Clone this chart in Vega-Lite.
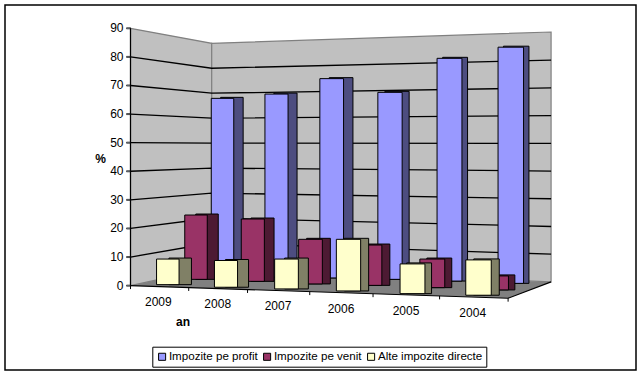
{
"$schema":"https://vega.github.io/schema/vega-lite/v6.json",
"width":631,"height":365,
"padding":{"left":5,"top":5,"right":6,"bottom":6},
"autosize":{"type":"none"},
"background":"white",
"view":{"stroke":"black","strokeWidth":1.5},
"datasets":{
"bare":[
{"an":2009,"serie":"Impozite pe profit","valoare":65.5,"baza":3.4},
{"an":2008,"serie":"Impozite pe profit","valoare":67,"baza":3},
{"an":2007,"serie":"Impozite pe profit","valoare":72.4,"baza":2.7},
{"an":2006,"serie":"Impozite pe profit","valoare":67.6,"baza":2.2},
{"an":2005,"serie":"Impozite pe profit","valoare":79.5,"baza":1.6},
{"an":2004,"serie":"Impozite pe profit","valoare":83.4,"baza":0.8},
{"an":2009,"serie":"Impozite pe venit","valoare":24.7,"baza":2.2},
{"an":2008,"serie":"Impozite pe venit","valoare":23.3,"baza":1.5},
{"an":2007,"serie":"Impozite pe venit","valoare":16.2,"baza":0.6},
{"an":2006,"serie":"Impozite pe venit","valoare":14.2,"baza":0.1},
{"an":2005,"serie":"Impozite pe venit","valoare":9.3,"baza":-0.7},
{"an":2004,"serie":"Impozite pe venit","valoare":3.4,"baza":-1.5},
{"an":2009,"serie":"Alte impozite directe","valoare":9.3,"baza":0.35},
{"an":2008,"serie":"Alte impozite directe","valoare":8.8,"baza":-0.56},
{"an":2007,"serie":"Alte impozite directe","valoare":9.3,"baza":-1.15},
{"an":2006,"serie":"Alte impozite directe","valoare":16.2,"baza":-1.85},
{"an":2005,"serie":"Alte impozite directe","valoare":7.6,"baza":-2.8},
{"an":2004,"serie":"Alte impozite directe","valoare":9,"baza":-3.35}
],
"pereti":[
{"perete":"stanga","x":2009.463,"sus":90,"jos":0},
{"perete":"stanga","x":2008.171,"sus":84.76,"jos":6.19},
{"perete":"spate","x":2008.171,"sus":84.76,"jos":6.19},
{"perete":"spate","x":2002.771,"sus":88.7,"jos":1.3}
],
"podea":[
{"x":2009.463,"sus":0,"jos":0},
{"x":2008.171,"sus":6.19,"jos":-0.95},
{"x":2003.455,"sus":1.92,"jos":-4.4},
{"x":2002.771,"sus":1.3,"jos":1.3}
],
"grila":[
{"v":10,"x":2009.463,"y":10},{"v":10,"x":2008.171,"y":14.92},{"v":10,"x":2002.771,"y":11},
{"v":20,"x":2009.463,"y":20},{"v":20,"x":2008.171,"y":23.65},{"v":20,"x":2002.771,"y":20.69},
{"v":30,"x":2009.463,"y":30},{"v":30,"x":2008.171,"y":32.38},{"v":30,"x":2002.771,"y":30.39},
{"v":40,"x":2009.463,"y":40},{"v":40,"x":2008.171,"y":41.11},{"v":40,"x":2002.771,"y":40.08},
{"v":50,"x":2009.463,"y":50},{"v":50,"x":2008.171,"y":49.84},{"v":50,"x":2002.771,"y":49.78},
{"v":60,"x":2009.463,"y":60},{"v":60,"x":2008.171,"y":58.57},{"v":60,"x":2002.771,"y":59.48},
{"v":70,"x":2009.463,"y":70},{"v":70,"x":2008.171,"y":67.3},{"v":70,"x":2002.771,"y":69.17},
{"v":80,"x":2009.463,"y":80},{"v":80,"x":2008.171,"y":76.03},{"v":80,"x":2002.771,"y":78.87}
],
"margini":[
{"v":"ax","x":2009.463,"y":90},{"v":"ax","x":2009.463,"y":0},
{"v":"fata","x":2009.463,"y":0},{"v":"fata","x":2003.455,"y":-4.4},{"v":"fata","x":2002.771,"y":1.3}
],
"ticuri":[
{"x":2009.463,"y":0,"y2":-1.2},
{"x":2008.537,"y":-0.66,"y2":-1.86},
{"x":2007.601,"y":-1.36,"y2":-2.56},
{"x":2006.611,"y":-2.1,"y2":-3.3},
{"x":2005.604,"y":-2.83,"y2":-4.03},
{"x":2004.545,"y":-3.6,"y2":-4.8},
{"x":2003.455,"y":-4.4,"y2":-5.6}
],
"etichete":[
{"an":2009,"eticheta":"2009","y":-5.6},
{"an":2008,"eticheta":"2008","y":-6.4},
{"an":2007,"eticheta":"2007","y":-7},
{"an":2006,"eticheta":"2006","y":-8},
{"an":2005,"eticheta":"2005","y":-8.7},
{"an":2004,"eticheta":"2004","y":-9.4}
],
"axa_y":[
{"v":0,"eticheta":"0"},{"v":10,"eticheta":"10"},{"v":20,"eticheta":"20"},{"v":30,"eticheta":"30"},{"v":40,"eticheta":"40"},{"v":50,"eticheta":"50"},{"v":60,"eticheta":"60"},{"v":70,"eticheta":"70"},{"v":80,"eticheta":"80"},{"v":90,"eticheta":"90"}
]
},
"resolve":{"scale":{"x":"independent"}},
"layer":[
{"data":{"name":"pereti"},
 "mark":{"type":"area","orient":"vertical","fill":"#C0C0C0","stroke":"#808080","strokeWidth":1.2},
 "encoding":{
  "x":{"field":"x","type":"quantitative","axis":null,"scale":{"domain":[2011.46,2001.42],"nice":false,"zero":false}},
  "y":{"field":"sus","type":"quantitative","axis":null,"scale":{"domain":[-29.5,98.15],"nice":false,"zero":false}},
  "y2":{"field":"jos"},
  "detail":{"field":"perete"}}},
{"data":{"name":"podea"},
 "mark":{"type":"area","orient":"vertical","fill":"#808080"},
 "encoding":{
  "x":{"field":"x","type":"quantitative","axis":null,"scale":{"domain":[2011.46,2001.42],"nice":false,"zero":false}},
  "y":{"field":"sus","type":"quantitative","axis":null,"scale":{"domain":[-29.5,98.15],"nice":false,"zero":false}},
  "y2":{"field":"jos"}}},
{"data":{"name":"grila"},
 "mark":{"type":"line","stroke":"black","strokeWidth":1.3},
 "encoding":{
  "x":{"field":"x","type":"quantitative","axis":null,"sort":null,"scale":{"domain":[2011.46,2001.42],"nice":false,"zero":false}},
  "y":{"field":"y","type":"quantitative","axis":null,"scale":{"domain":[-29.5,98.15],"nice":false,"zero":false}},
  "detail":{"field":"v"}}},
{"data":{"name":"margini"},
 "mark":{"type":"line","stroke":"black","strokeWidth":1.2},
 "encoding":{
  "x":{"field":"x","type":"quantitative","axis":null,"sort":null,"scale":{"domain":[2011.46,2001.42],"nice":false,"zero":false}},
  "y":{"field":"y","type":"quantitative","axis":null,"scale":{"domain":[-29.5,98.15],"nice":false,"zero":false}},
  "order":{"field":"x","sort":"descending"},
  "detail":{"field":"v"}}},
{"data":{"name":"ticuri"},
 "mark":{"type":"rule","stroke":"black","strokeWidth":1},
 "encoding":{
  "x":{"field":"x","type":"quantitative","axis":null,"scale":{"domain":[2011.46,2001.42],"nice":false,"zero":false}},
  "y":{"field":"y","type":"quantitative","axis":null,"scale":{"domain":[-29.5,98.15],"nice":false,"zero":false}},
  "y2":{"field":"y2"}}},
{"data":{"name":"axa_y"},
 "mark":{"type":"tick","orient":"horizontal","stroke":"black","strokeWidth":1,"size":4,"xOffset":-2},
 "encoding":{
  "x":{"datum":2009.463,"type":"quantitative","axis":null,"scale":{"domain":[2011.46,2001.42],"nice":false,"zero":false}},
  "y":{"field":"v","type":"quantitative","axis":null,"scale":{"domain":[-29.5,98.15],"nice":false,"zero":false}}}},
{"data":{"name":"axa_y"},
 "mark":{"type":"text","font":"Liberation Sans","fontSize":12,"fill":"black","align":"right","baseline":"middle","xOffset":-7},
 "encoding":{
  "x":{"datum":2009.463,"type":"quantitative","axis":null,"scale":{"domain":[2011.46,2001.42],"nice":false,"zero":false}},
  "y":{"field":"v","type":"quantitative","axis":null,"scale":{"domain":[-29.5,98.15],"nice":false,"zero":false}},
  "text":{"field":"eticheta"}}},
{"data":{"name":"bare"},"transform":[{"filter":"datum.serie==='Impozite pe profit'"}],
 "mark":{"type":"bar","fill":"#4D4D80","stroke":"black","strokeWidth":1,"yOffset":-1},
 "encoding":{
  "x":{"field":"an","type":"quantitative","axis":null,"scale":{"domain":[2009,2008,2007,2006,2005,2004],"range":[226.9,280.5,336.1,392,450.1,511.2],"zero":false,"nice":false,"padding":0}},
  "y":{"field":"valoare","type":"quantitative","axis":null,"scale":{"domain":[-29.5,98.15],"nice":false,"zero":false}},
  "y2":{"field":"baza"},
  "size":{"field":"an","type":"quantitative","legend":null,"scale":{"domain":[2009,2004],"range":[22.5,25.5],"zero":false}}}},
{"data":{"name":"bare"},"transform":[{"filter":"datum.serie==='Impozite pe profit'"}],
 "mark":{"type":"bar","stroke":"black","strokeWidth":1},
 "encoding":{
  "x":{"field":"an","type":"quantitative","axis":null,"scale":{"domain":[2009,2008,2007,2006,2005,2004],"range":[217.5,271.5,326.7,385,444.5,505.8],"zero":false,"nice":false,"padding":0}},
  "y":{"field":"valoare","type":"quantitative","axis":null,"scale":{"domain":[-29.5,98.15],"nice":false,"zero":false}},
  "y2":{"field":"baza"},
  "size":{"field":"an","type":"quantitative","legend":null,"scale":{"domain":[2009,2004],"range":[22.5,25.5],"zero":false}},
  "color":{"field":"serie","type":"nominal","scale":{"domain":["Impozite pe profit","Impozite pe venit","Alte impozite directe"],"range":["#9999FF","#993366","#FFFFCC"]},
   "legend":{"title":null,"orient":"none","legendX":147.3,"legendY":341.7,"direction":"horizontal","columns":3,"columnPadding":3,"symbolType":"square","symbolSize":50,"symbolStrokeColor":"black","symbolStrokeWidth":1,"labelFont":"Liberation Sans","labelFontSize":11.6,"labelColor":"black","labelOffset":1,"strokeColor":"black","fillColor":"white","padding":4}}}},
{"data":{"name":"bare"},"transform":[{"filter":"datum.serie==='Impozite pe venit'"}],
 "mark":{"type":"bar","fill":"#4D1A33","stroke":"black","strokeWidth":1,"yOffset":-1},
 "encoding":{
  "x":{"field":"an","type":"quantitative","axis":null,"scale":{"domain":[2009,2008,2007,2006,2005,2004],"range":[202,257.5,313.5,372.7,434.3,497.1],"zero":false,"nice":false,"padding":0}},
  "y":{"field":"valoare","type":"quantitative","axis":null,"scale":{"domain":[-29.5,98.15],"nice":false,"zero":false}},
  "y2":{"field":"baza"},
  "size":{"field":"an","type":"quantitative","legend":null,"scale":{"domain":[2009,2004],"range":[22.5,25.5],"zero":false}}}},
{"data":{"name":"bare"},"transform":[{"filter":"datum.serie==='Impozite pe venit'"}],
 "mark":{"type":"bar","stroke":"black","strokeWidth":1},
 "encoding":{
  "x":{"field":"an","type":"quantitative","axis":null,"scale":{"domain":[2009,2008,2007,2006,2005,2004],"range":[191,247.8,305.5,364.7,427.3,490.7],"zero":false,"nice":false,"padding":0}},
  "y":{"field":"valoare","type":"quantitative","axis":null,"scale":{"domain":[-29.5,98.15],"nice":false,"zero":false}},
  "y2":{"field":"baza"},
  "size":{"field":"an","type":"quantitative","legend":null,"scale":{"domain":[2009,2004],"range":[22.5,25.5],"zero":false}},
  "color":{"field":"serie","type":"nominal","scale":{"domain":["Impozite pe profit","Impozite pe venit","Alte impozite directe"],"range":["#9999FF","#993366","#FFFFCC"]}}}},
{"data":{"name":"bare"},"transform":[{"filter":"datum.serie==='Alte impozite directe'"}],
 "mark":{"type":"bar","fill":"#808066","stroke":"black","strokeWidth":1,"yOffset":-1},
 "encoding":{
  "x":{"field":"an","type":"quantitative","axis":null,"scale":{"domain":[2009,2008,2007,2006,2005,2004],"range":[175.2,232,291.5,351.5,414.1,481.5],"zero":false,"nice":false,"padding":0}},
  "y":{"field":"valoare","type":"quantitative","axis":null,"scale":{"domain":[-29.5,98.15],"nice":false,"zero":false}},
  "y2":{"field":"baza"},
  "size":{"field":"an","type":"quantitative","legend":null,"scale":{"domain":[2009,2004],"range":[22.5,25.5],"zero":false}}}},
{"data":{"name":"bare"},"transform":[{"filter":"datum.serie==='Alte impozite directe'"}],
 "mark":{"type":"bar","stroke":"black","strokeWidth":1},
 "encoding":{
  "x":{"field":"an","type":"quantitative","axis":null,"scale":{"domain":[2009,2008,2007,2006,2005,2004],"range":[162.8,221,281.5,343.5,407.5,473.5],"zero":false,"nice":false,"padding":0}},
  "y":{"field":"valoare","type":"quantitative","axis":null,"scale":{"domain":[-29.5,98.15],"nice":false,"zero":false}},
  "y2":{"field":"baza"},
  "size":{"field":"an","type":"quantitative","legend":null,"scale":{"domain":[2009,2004],"range":[22.5,25.5],"zero":false}},
  "color":{"field":"serie","type":"nominal","scale":{"domain":["Impozite pe profit","Impozite pe venit","Alte impozite directe"],"range":["#9999FF","#993366","#FFFFCC"]}}}},
{"data":{"name":"etichete"},
 "mark":{"type":"text","font":"Liberation Sans","fontSize":12,"fill":"black","align":"center","baseline":"middle"},
 "encoding":{
  "x":{"field":"an","type":"quantitative","axis":null,"scale":{"domain":[2009,2008,2007,2006,2005,2004],"range":[153.3,212.7,273,336,401,467.7],"zero":false,"nice":false}},
  "y":{"field":"y","type":"quantitative","axis":null,"scale":{"domain":[-29.5,98.15],"nice":false,"zero":false}},
  "text":{"field":"eticheta"}}},
{"data":{"values":[{"titlu":"an","x":2008.628,"y":-12.7},{"titlu":"%","x":2009.94,"y":44.4}]},
 "mark":{"type":"text","font":"Liberation Sans","fontSize":12,"fontWeight":"bold","fill":"black","align":"center","baseline":"middle"},
 "encoding":{
  "x":{"field":"x","type":"quantitative","axis":null,"scale":{"domain":[2011.46,2001.42],"nice":false,"zero":false}},
  "y":{"field":"y","type":"quantitative","axis":null,"scale":{"domain":[-29.5,98.15],"nice":false,"zero":false}},
  "text":{"field":"titlu"}}}
]
}
